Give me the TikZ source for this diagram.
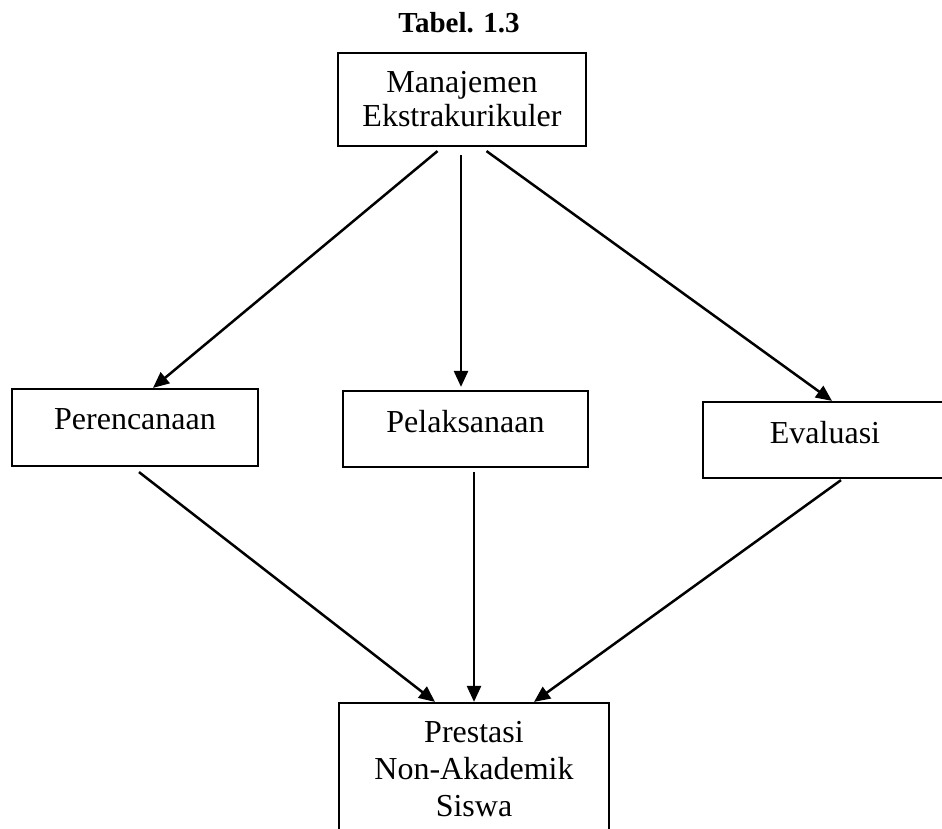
\documentclass[tikz,border=0pt]{standalone}
\usepackage{fontspec}
\setmainfont{Liberation Serif}
\usetikzlibrary{arrows.meta}
\begin{document}
\begin{tikzpicture}[x=1pt,y=-1pt,
  box/.style={draw=black, line width=2.2pt, fill=white, inner sep=0pt},
  lbl/.style={font=\fontsize{32}{37}\selectfont, inner sep=0pt, align=center},
  arr/.style={line width=2.5pt, -{Triangle[length=16pt,width=14pt]}}]
\useasboundingbox (0,0) rectangle (942,829);
% title
\node[font=\bfseries\fontsize{29}{33}\selectfont, inner sep=0pt, anchor=base] (title) at (459,33) {Tabel. 1.3};
% boxes
\node[box, lbl, font=\fontsize{32}{34}\selectfont, minimum width=248pt, minimum height=93pt] (mgmt) at (462,99.5) {Manajemen\\Ekstrakurikuler};
\node[box, minimum width=246pt, minimum height=77pt] (plan) at (135,427.5) {};
\node[box, minimum width=245pt, minimum height=76pt] (impl) at (465.5,429) {};
\node[box, minimum width=242pt, minimum height=76pt] (eval) at (824,440) {};
\node[box, minimum width=270pt, minimum height=140pt] (result) at (474,773) {};
% labels
\node[lbl, anchor=base] (planT) at (135,429) {Perencanaan};
\node[lbl, anchor=base] (implT) at (465.5,432) {Pelaksanaan};
\node[lbl, anchor=base] (evalT) at (825,443) {Evaluasi};
\node[lbl] (resultT) at (474,769) {Prestasi\\Non-Akademik\\Siswa};
% arrows from top
\draw[arr] ([xshift=-24.5pt,yshift=-4pt]mgmt.south) -- ([xshift=18pt]plan.north);
\draw[arr] ([xshift=-1pt,yshift=-8pt]mgmt.south) -- ([xshift=-4.5pt,yshift=3pt]impl.north);
\draw[arr] ([xshift=24.5pt,yshift=-4pt]mgmt.south) -- ([xshift=8pt]eval.north);
% arrows to result
\draw[arr] ([xshift=4pt,yshift=-5pt]plan.south) -- ([xshift=-39pt]result.north);
\draw[arr] ([xshift=8.5pt,yshift=-4pt]impl.south) -- (result.north);
\draw[arr] ([xshift=17pt,yshift=-1pt]eval.south) -- ([xshift=60pt]result.north);
\end{tikzpicture}
\end{document}
